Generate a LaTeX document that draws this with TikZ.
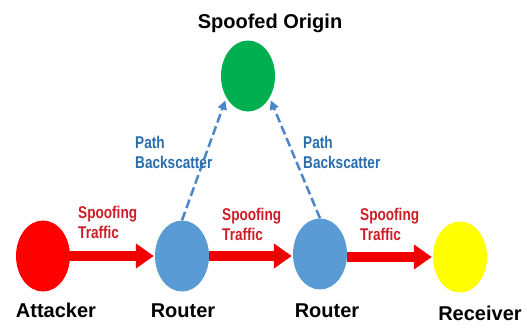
\documentclass[tikz,border=0pt]{standalone}
\usepackage{fontspec}
\setmainfont{Liberation Sans}
\newfontfamily\narrowfont[FakeStretch=0.8]{Liberation Sans Bold}
\usetikzlibrary{arrows.meta,shapes.geometric}
\definecolor{nodered}{RGB}{255,0,0}
\definecolor{nodeblue}{RGB}{91,155,213}
\definecolor{nodegreen}{RGB}{0,176,80}
\definecolor{nodeyellow}{RGB}{255,255,0}
\definecolor{arrowred}{RGB}{240,0,0}
\definecolor{labelred}{RGB}{205,30,40}
\definecolor{dashblue}{RGB}{75,135,200}
\definecolor{labelblue}{RGB}{40,110,175}
\begin{document}
\begin{tikzpicture}[x=1pt,y=-1pt,
  blob/.style={ellipse,minimum width=54pt,minimum height=71pt,inner sep=0pt},
  bigtext/.style={font=\fontsize{20}{22}\selectfont\bfseries,text=black,inner sep=0pt,anchor=base},
  smalltext/.style={font=\narrowfont\fontsize{17}{19.5}\selectfont,inner sep=0pt,align=left,anchor=base west},
  redarrow/.style={draw=arrowred,line width=10pt,-{Triangle[length=18pt,width=24pt]},shorten >=1pt},
  bluedash/.style={draw=dashblue,line width=2.5pt,dash pattern=on 9pt off 4pt,-{Triangle[length=9pt,width=9pt]}}
]
\useasboundingbox (0,0) rectangle (527,327);
\fill[white] (0,0) rectangle (527,327);

\node[blob,fill=nodered] (att) at (43,256) {};
\node[blob,fill=nodeblue] (r1) at (182,256) {};
\node[blob,fill=nodeblue] (r2) at (320,254) {};
\node[blob,fill=nodeyellow] (rec) at (460,257) {};
\node[blob,fill=nodegreen] (orig) at (248,76) {};

\node[bigtext] (tatt) at (56,317) {Attacker};
\node[bigtext] (tr1) at (183,317) {Router};
\node[bigtext] (tr2) at (327,317) {Router};
\node[bigtext] (trec) at (480,320) {Receiver};
\node[bigtext] (torig) at (270,28) {Spoofed Origin};

\draw[redarrow] (att) -- (r1);
\draw[redarrow] (r1.east) -- (r1.east -| r2.west);
\draw[redarrow] (r2.east |- rec.west) -- (rec.west);

\draw[bluedash,shorten >=3pt] (r1.north) -- (orig.225);
\draw[bluedash,shorten >=3pt] (r2.north) -- (orig.-45);

\node[smalltext,text=labelred] (st1) at (78,238) {Spoofing\\Traffic};
\node[smalltext,text=labelred] (st2) at (222,240) {Spoofing\\Traffic};
\node[smalltext,text=labelred] (st3) at (360,240) {Spoofing\\Traffic};
\node[smalltext,text=labelblue] (pb1) at (135,168) {Path\\Backscatter};
\node[smalltext,text=labelblue] (pb2) at (303,168) {Path\\Backscatter};
\end{tikzpicture}
\end{document}
